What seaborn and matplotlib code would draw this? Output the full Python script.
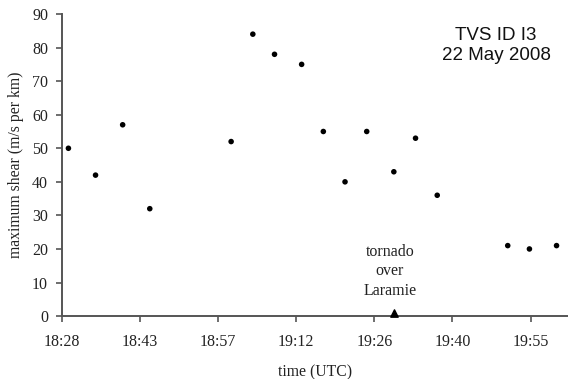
import matplotlib
matplotlib.use("Agg")
import matplotlib.pyplot as plt
import pandas as pd
import seaborn as sns

# Valores
times = ["18:30", "18:35", "18:40", "18:45", "19:00", "19:04", "19:08", "19:13", "19:17",
         "19:21", "19:25", "19:30", "19:34", "19:38", "19:51", "19:55", "20:00"]
shear = [50, 42, 57, 32, 52, 84, 78, 75, 55, 40, 55, 43, 53, 36, 21, 20, 21]

tornado_time = "19:30"
tornado_value = 1

tick_days = [0.77, 0.78, 0.79, 0.80, 0.81, 0.82, 0.83]
tick_labels = ["18:28", "18:43", "18:57", "19:12", "19:26", "19:40", "19:55"]


def to_day(t):
    h, m = t.split(":")
    return (int(h) * 60 + int(m)) / 1440.0


df = pd.DataFrame({"day": [to_day(t) for t in times], "shear": shear})

sns.set_style("ticks")
plt.rcParams["font.family"] = ["Liberation Serif", "DejaVu Serif"]

fig = plt.figure(figsize=(5.68, 3.79), dpi=100)
ax = fig.add_axes([0.109, 0.166, 0.891, 0.797])

sns.scatterplot(data=df, x="day", y="shear", color="black", s=16, edgecolor="none", ax=ax)
ax.scatter([to_day(tornado_time)], [tornado_value], marker="^", color="black", s=28,
           zorder=5, clip_on=False)

ax.set_xlim(0.77, 0.8348)
ax.set_ylim(0, 90)
ax.set_xticks(tick_days)
ax.set_xticklabels(tick_labels)
ax.set_yticks(range(0, 91, 10))

for side in ["top", "right"]:
    ax.spines[side].set_visible(False)
for side in ["left", "bottom"]:
    ax.spines[side].set_color("#555555")
    ax.spines[side].set_linewidth(1.4)
ax.tick_params(axis="both", direction="out", length=4, width=1.2, color="#555555",
               labelsize=11.5, labelcolor="#222222", pad=6)
ax.tick_params(axis="x", pad=9)

ax.set_xlabel("time (UTC)", fontsize=11.3, color="#222222", labelpad=10)
ax.set_ylabel("maximum shear (m/s per km)", fontsize=11.3, color="#222222", labelpad=6)

ax.text(0.8256, 80.6, "TVS ID I3\n22 May 2008", ha="center", va="center",
        family=["Liberation Sans", "DejaVu Sans"], fontsize=13.5, linespacing=1.25,
        color="#111111")
ax.text(0.8120, 13.4, "tornado\nover\nLaramie", ha="center", va="center",
        fontsize=11.5, linespacing=1.3, color="#222222")

fig.savefig("out.png", dpi=100)
